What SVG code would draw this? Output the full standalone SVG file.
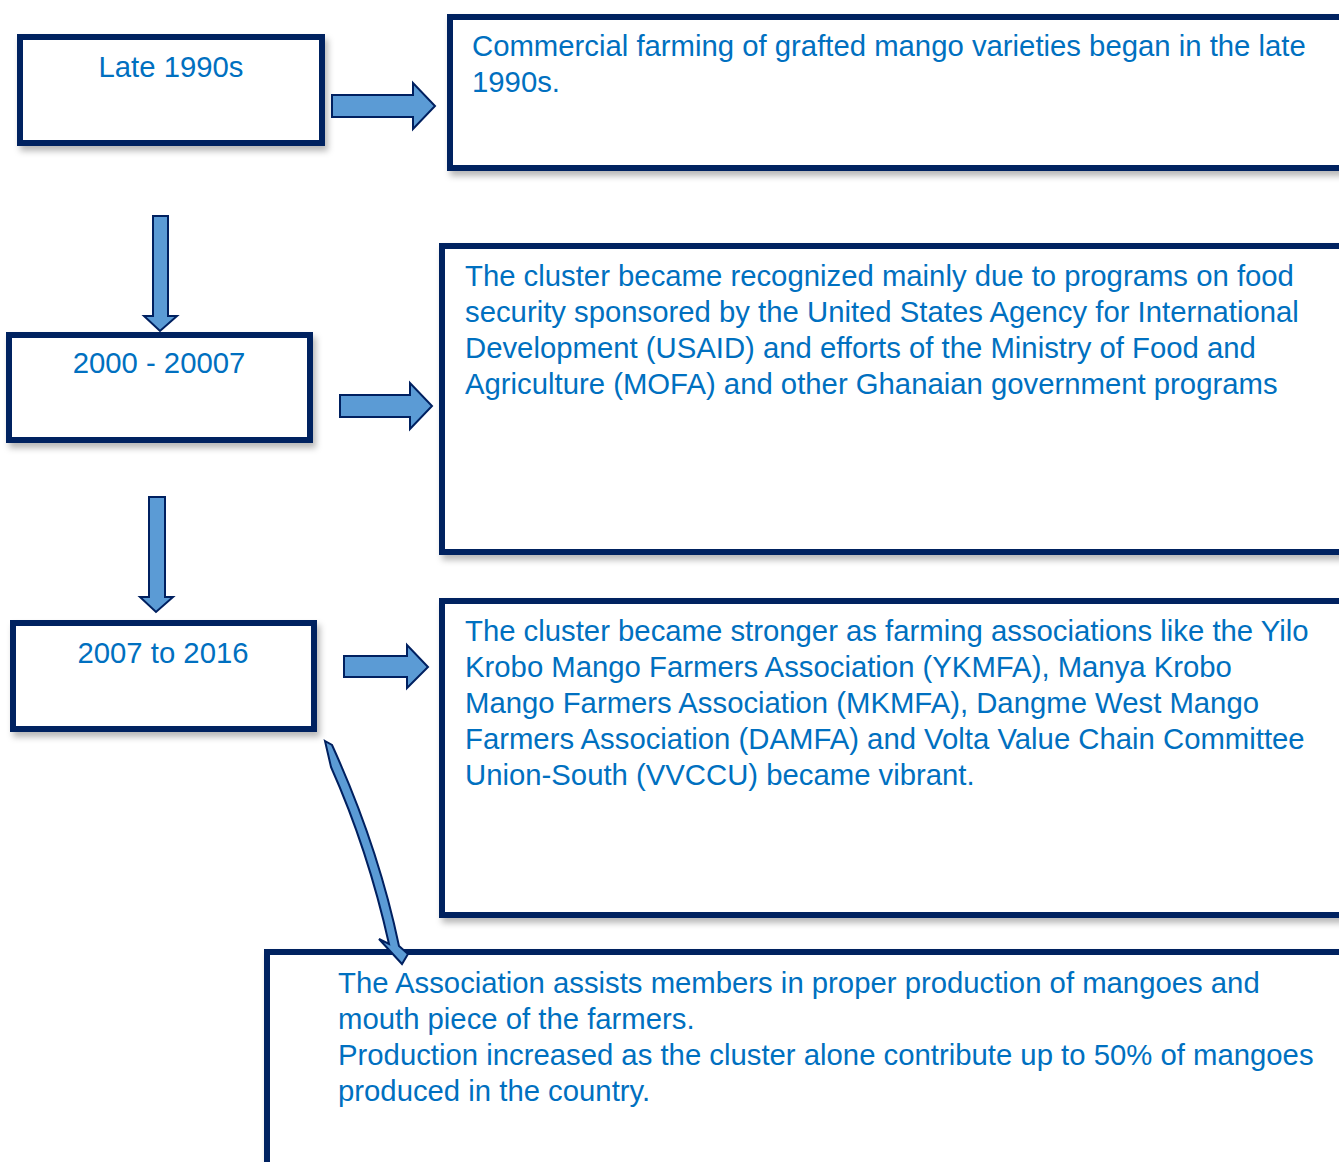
<svg xmlns="http://www.w3.org/2000/svg" width="1339" height="1162" viewBox="0 0 1339 1162">
<defs>
<filter id="sh" x="-10%" y="-10%" width="130%" height="130%">
<feDropShadow dx="3" dy="5" stdDeviation="3" flood-color="#000" flood-opacity="0.28"/>
</filter>
</defs>
<style>
.box{fill:#fff;stroke:#002060;stroke-width:6;filter:url(#sh)}
.arr{fill:#5B9BD5;stroke:#002060;stroke-width:2;stroke-linejoin:miter}
.t{font-family:"Liberation Sans",Arial,sans-serif;font-size:29.3px;fill:#0070C0}
.c{text-anchor:middle}
</style>
<rect width="1339" height="1162" fill="#fff"/>
<g id="node-late1990s">
<rect class="box" x="20" y="37" width="302" height="106"/>
<text class="t c" x="171" y="77">Late 1990s</text>
</g>
<g id="node-2000-2007">
<rect class="box" x="9" y="335" width="301" height="105"/>
<text class="t c" x="159" y="373">2000 - 20007</text>
</g>
<g id="node-2007-2016">
<rect class="box" x="13" y="623" width="301" height="106"/>
<text class="t c" x="163" y="663">2007 to 2016</text>
</g>
<g id="node-desc1">
<rect class="box" x="450" y="17" width="920" height="151"/>
<text class="t" x="472" y="56">Commercial farming of grafted mango varieties began in the late</text>
<text class="t" x="472" y="92">1990s.</text>
</g>
<g id="node-desc2">
<rect class="box" x="442" y="246" width="920" height="306"/>
<text class="t" x="465" y="286">The cluster became recognized mainly due to programs on food</text>
<text class="t" x="465" y="322">security sponsored by the United States Agency for International</text>
<text class="t" x="465" y="358">Development (USAID) and efforts of the Ministry of Food and</text>
<text class="t" x="465" y="394">Agriculture (MOFA) and other Ghanaian government programs</text>
</g>
<g id="node-desc3">
<rect class="box" x="442" y="601" width="920" height="314"/>
<text class="t" x="465" y="641">The cluster became stronger as farming associations like the Yilo</text>
<text class="t" x="465" y="677">Krobo Mango Farmers Association (YKMFA), Manya Krobo</text>
<text class="t" x="465" y="713">Mango Farmers Association (MKMFA), Dangme West Mango</text>
<text class="t" x="465" y="749">Farmers Association (DAMFA) and Volta Value Chain Committee</text>
<text class="t" x="465" y="785">Union-South (VVCCU) became vibrant.</text>
</g>
<g id="node-desc4">
<rect class="box" x="267" y="952" width="1100" height="240"/>
<text class="t" x="338" y="993">The Association assists members in proper production of mangoes and</text>
<text class="t" x="338" y="1029">mouth piece of the farmers.</text>
<text class="t" x="338" y="1065">Production increased as the cluster alone contribute up to 50% of mangoes</text>
<text class="t" x="338" y="1101">produced in the country.</text>
</g>
<g id="connectors">
<path class="arr" d="M332,95 H413 V83 L435,106 L413,129 V117 H332 Z"/>
<path class="arr" d="M340,395 H410 V383 L432,406 L410,429 V417 H340 Z"/>
<path class="arr" d="M344,656 H407 V645 L428,667 L407,688 V677 H344 Z"/>
<path class="arr" d="M153,216 H168 V316 H177 L160,331 L144,316 H153 Z"/>
<path class="arr" d="M149,497 H165 V597 H173 L156,612 L140,597 H149 Z"/>
<path class="arr" d="M325,741 L332,745 Q378,846 399,946 L408,954 L402,964 L379,939 L389,944 Q368,850 331,767 Z"/>
</g>
</svg>
